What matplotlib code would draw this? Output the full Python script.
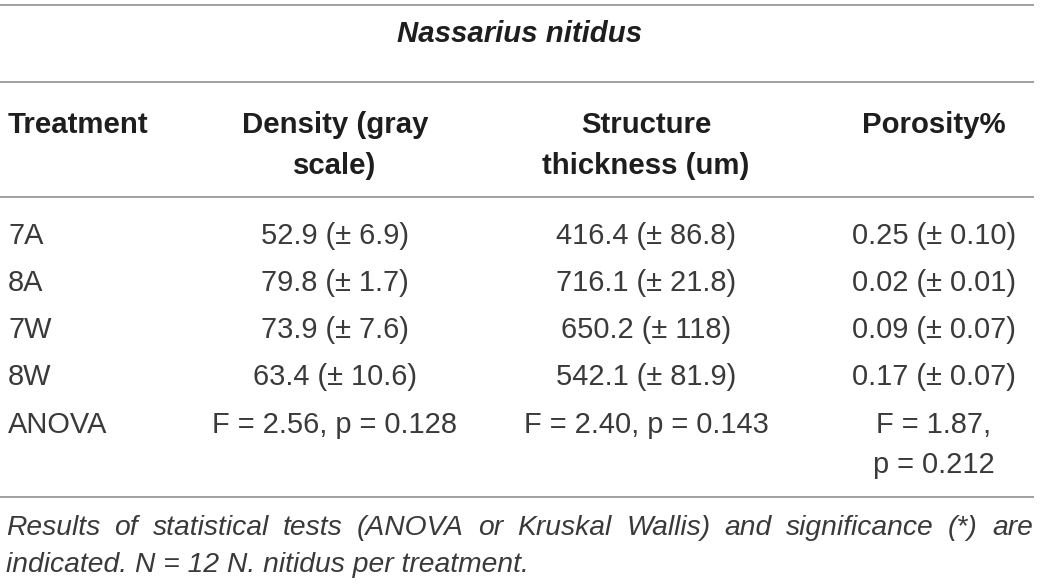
import matplotlib
matplotlib.use("Agg")
import matplotlib.pyplot as plt

# ---- data ----
title = "Nassarius nitidus"
headers = ["Treatment", "Density (gray\nscale)", "Structure\nthickness (um)", "Porosity%"]
treatments = ["7A", "8A", "7W", "8W", "ANOVA"]
density = ["52.9 (\u00b1 6.9)", "79.8 (\u00b1 1.7)", "73.9 (\u00b1 7.6)", "63.4 (\u00b1 10.6)",
           "F = 2.56, p = 0.128"]
structure = ["416.4 (\u00b1 86.8)", "716.1 (\u00b1 21.8)", "650.2 (\u00b1 118)", "542.1 (\u00b1 81.9)",
             "F = 2.40, p = 0.143"]
porosity = ["0.25 (\u00b1 0.10)", "0.02 (\u00b1 0.01)", "0.09 (\u00b1 0.07)", "0.17 (\u00b1 0.07)",
            "F = 1.87,\np = 0.212"]
caption1 = "Results of statistical tests (ANOVA or Kruskal Wallis) and significance (*) are"
caption2 = "indicated. N = 12 N. nitidus per treatment."

# ---- layout (pixel coordinates) ----
W, H = 1040, 584
FAM = ["Liberation Sans", "DejaVu Sans"]
fig = plt.figure(figsize=(W / 100, H / 100), dpi=100)
ax = fig.add_axes([0, 0, 1, 1])
ax.set_xlim(0, W)
ax.set_ylim(H, 0)
ax.axis("off")

fs = 20.9      # pt
head_fs = 21.2
cap_fs = 20.3
line_col = "#a0a0a0"
head_col = "#1e1e1e"
body_col = "#3a3a3a"
linesp = 41  # px between lines inside a cell

for y in [5, 82, 197, 497]:
    ax.plot([0, 1034], [y, y], color=line_col, lw=1.4, solid_capstyle="butt")

ax.text(520, 42, title, ha="center", va="baseline", fontsize=head_fs, fontweight="bold",
        fontstyle="italic", color=head_col, family=FAM)

col_x = [8, 335, 646, 934]
col_ha = ["left", "center", "center", "center"]
head_base = 133
for cx, ha, h in zip(col_x, col_ha, headers):
    for k, ln in enumerate(h.split("\n")):
        ax.text(cx, head_base + k * linesp, ln, ha=ha, va="baseline", fontsize=head_fs,
                fontweight="bold", color=head_col, family=FAM)

row_base = [244, 291, 338, 385, 433]
for i, yb in enumerate(row_base):
    cells = [treatments[i], density[i], structure[i], porosity[i]]
    for cx, ha, c in zip(col_x, col_ha, cells):
        for k, ln in enumerate(c.split("\n")):
            ax.text(cx, yb + k * 40, ln, ha=ha, va="baseline", fontsize=fs,
                    color=body_col, family=FAM)

# caption: first line justified
fig.canvas.draw()
r = fig.canvas.get_renderer()
words = caption1.split(" ")
widths = []
for w in words:
    t = ax.text(0, 0, w, fontsize=cap_fs, fontstyle="italic", family=FAM)
    bb = t.get_window_extent(renderer=r)
    widths.append(bb.width)
    t.remove()
left, right = 6, 1033
gap = (right - left - sum(widths)) / (len(words) - 1)
x = left
for w, wd in zip(words, widths):
    ax.text(x, 535, w, ha="left", va="baseline", fontsize=cap_fs, fontstyle="italic",
            color=body_col, family=FAM)
    x += wd + gap
ax.text(left, 572, caption2, ha="left", va="baseline", fontsize=cap_fs, fontstyle="italic",
        color=body_col, family=FAM)

fig.savefig("out.png", dpi=100, facecolor="white")
